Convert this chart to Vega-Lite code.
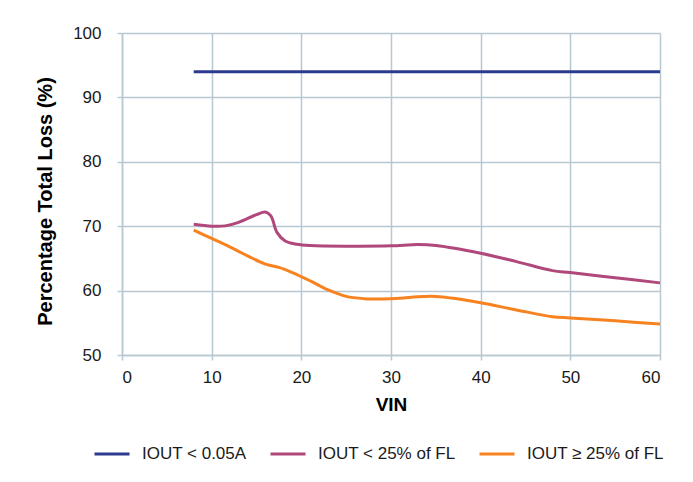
{
  "$schema": "https://vega.github.io/schema/vega-lite/v6.json",
  "width": 538,
  "height": 322,
  "autosize": {"type": "none"},
  "padding": {"left": 122, "top": 33, "right": 33, "bottom": 127},
  "background": "white",
  "config": {"font": "Liberation Sans", "view": {"stroke": null}},
  "data": {
    "values": [
      {"series": "IOUT < 0.05A", "vin": 8, "loss": 94},
      {"series": "IOUT < 0.05A", "vin": 60, "loss": 94},
      {"series": "IOUT < 25% of FL", "vin": 8, "loss": 70.3},
      {"series": "IOUT < 25% of FL", "vin": 10, "loss": 70.0},
      {"series": "IOUT < 25% of FL", "vin": 11.5, "loss": 70.05},
      {"series": "IOUT < 25% of FL", "vin": 13, "loss": 70.6},
      {"series": "IOUT < 25% of FL", "vin": 15, "loss": 71.8},
      {"series": "IOUT < 25% of FL", "vin": 16, "loss": 72.2},
      {"series": "IOUT < 25% of FL", "vin": 16.6, "loss": 71.6},
      {"series": "IOUT < 25% of FL", "vin": 17.3, "loss": 69.0},
      {"series": "IOUT < 25% of FL", "vin": 18.2, "loss": 67.7},
      {"series": "IOUT < 25% of FL", "vin": 19.5, "loss": 67.2},
      {"series": "IOUT < 25% of FL", "vin": 21, "loss": 67.0},
      {"series": "IOUT < 25% of FL", "vin": 25, "loss": 66.9},
      {"series": "IOUT < 25% of FL", "vin": 30, "loss": 66.95},
      {"series": "IOUT < 25% of FL", "vin": 33, "loss": 67.15},
      {"series": "IOUT < 25% of FL", "vin": 35, "loss": 67.0},
      {"series": "IOUT < 25% of FL", "vin": 40, "loss": 65.8},
      {"series": "IOUT < 25% of FL", "vin": 44, "loss": 64.5},
      {"series": "IOUT < 25% of FL", "vin": 48, "loss": 63.1},
      {"series": "IOUT < 25% of FL", "vin": 50, "loss": 62.8},
      {"series": "IOUT < 25% of FL", "vin": 55, "loss": 62.0},
      {"series": "IOUT < 25% of FL", "vin": 60, "loss": 61.2},
      {"series": "IOUT ≥ 25% of FL", "vin": 8, "loss": 69.4},
      {"series": "IOUT ≥ 25% of FL", "vin": 10, "loss": 68.1},
      {"series": "IOUT ≥ 25% of FL", "vin": 12, "loss": 66.8},
      {"series": "IOUT ≥ 25% of FL", "vin": 14, "loss": 65.4},
      {"series": "IOUT ≥ 25% of FL", "vin": 16, "loss": 64.1},
      {"series": "IOUT ≥ 25% of FL", "vin": 17.5, "loss": 63.6},
      {"series": "IOUT ≥ 25% of FL", "vin": 19, "loss": 62.8},
      {"series": "IOUT ≥ 25% of FL", "vin": 21, "loss": 61.5},
      {"series": "IOUT ≥ 25% of FL", "vin": 23, "loss": 60.1},
      {"series": "IOUT ≥ 25% of FL", "vin": 25, "loss": 59.1},
      {"series": "IOUT ≥ 25% of FL", "vin": 27, "loss": 58.75},
      {"series": "IOUT ≥ 25% of FL", "vin": 29, "loss": 58.7},
      {"series": "IOUT ≥ 25% of FL", "vin": 31, "loss": 58.8},
      {"series": "IOUT ≥ 25% of FL", "vin": 33, "loss": 59.05},
      {"series": "IOUT ≥ 25% of FL", "vin": 35, "loss": 59.1},
      {"series": "IOUT ≥ 25% of FL", "vin": 37, "loss": 58.8},
      {"series": "IOUT ≥ 25% of FL", "vin": 40, "loss": 58.1},
      {"series": "IOUT ≥ 25% of FL", "vin": 44, "loss": 57.0},
      {"series": "IOUT ≥ 25% of FL", "vin": 48, "loss": 55.95},
      {"series": "IOUT ≥ 25% of FL", "vin": 50, "loss": 55.75},
      {"series": "IOUT ≥ 25% of FL", "vin": 55, "loss": 55.3},
      {"series": "IOUT ≥ 25% of FL", "vin": 60, "loss": 54.8}
    ]
  },
  "mark": {"type": "line", "interpolate": "catmull-rom", "strokeWidth": 3},
  "encoding": {
    "x": {
      "field": "vin",
      "type": "quantitative",
      "scale": {"domain": [0, 60], "nice": false},
      "axis": {
        "values": [0, 10, 20, 30, 40, 50, 60],
        "title": "VIN",
        "titleFontSize": 19,
        "titleFontWeight": "bold",
        "titleColor": "#000000",
        "titlePadding": 10,
        "labelFontSize": 17,
        "labelColor": "#1a1a1a",
        "labelPadding": 9,
        "tickSize": 5,
        "tickColor": "#B8C8D3",
        "tickWidth": 1.5,
        "domainColor": "#B8C8D3",
        "domainWidth": 1.5,
        "gridColor": "#B8C8D3",
        "gridWidth": 1.5
      }
    },
    "y": {
      "field": "loss",
      "type": "quantitative",
      "scale": {"domain": [50, 100], "nice": false, "zero": false},
      "axis": {
        "values": [50, 60, 70, 80, 90, 100],
        "title": "Percentage Total Loss (%)",
        "titleFontSize": 20,
        "titleFontWeight": "bold",
        "titleColor": "#000000",
        "titleX": -77,
        "titleY": 168,
        "titleBaseline": "middle",
        "labelFontSize": 17,
        "labelColor": "#1a1a1a",
        "labelPadding": 16,
        "tickSize": 5,
        "tickColor": "#B8C8D3",
        "tickWidth": 1.5,
        "domainColor": "#B8C8D3",
        "domainWidth": 1.5,
        "gridColor": "#B8C8D3",
        "gridWidth": 1.5
      }
    },
    "color": {
      "field": "series",
      "type": "nominal",
      "scale": {
        "domain": ["IOUT < 0.05A", "IOUT < 25% of FL", "IOUT ≥ 25% of FL"],
        "range": ["#2B3A8F", "#B0487C", "#F7821F"]
      },
      "legend": {
        "title": null,
        "orient": "none",
        "direction": "horizontal",
        "legendX": -29,
        "legendY": 402,
        "symbolType": "stroke",
        "symbolSize": 1225,
        "symbolStrokeWidth": 3,
        "labelFontSize": 17,
        "labelColor": "#1a1a1a",
        "labelOffset": 11,
        "columnPadding": 17,
        "labelLimit": 300
      }
    }
  }
}
